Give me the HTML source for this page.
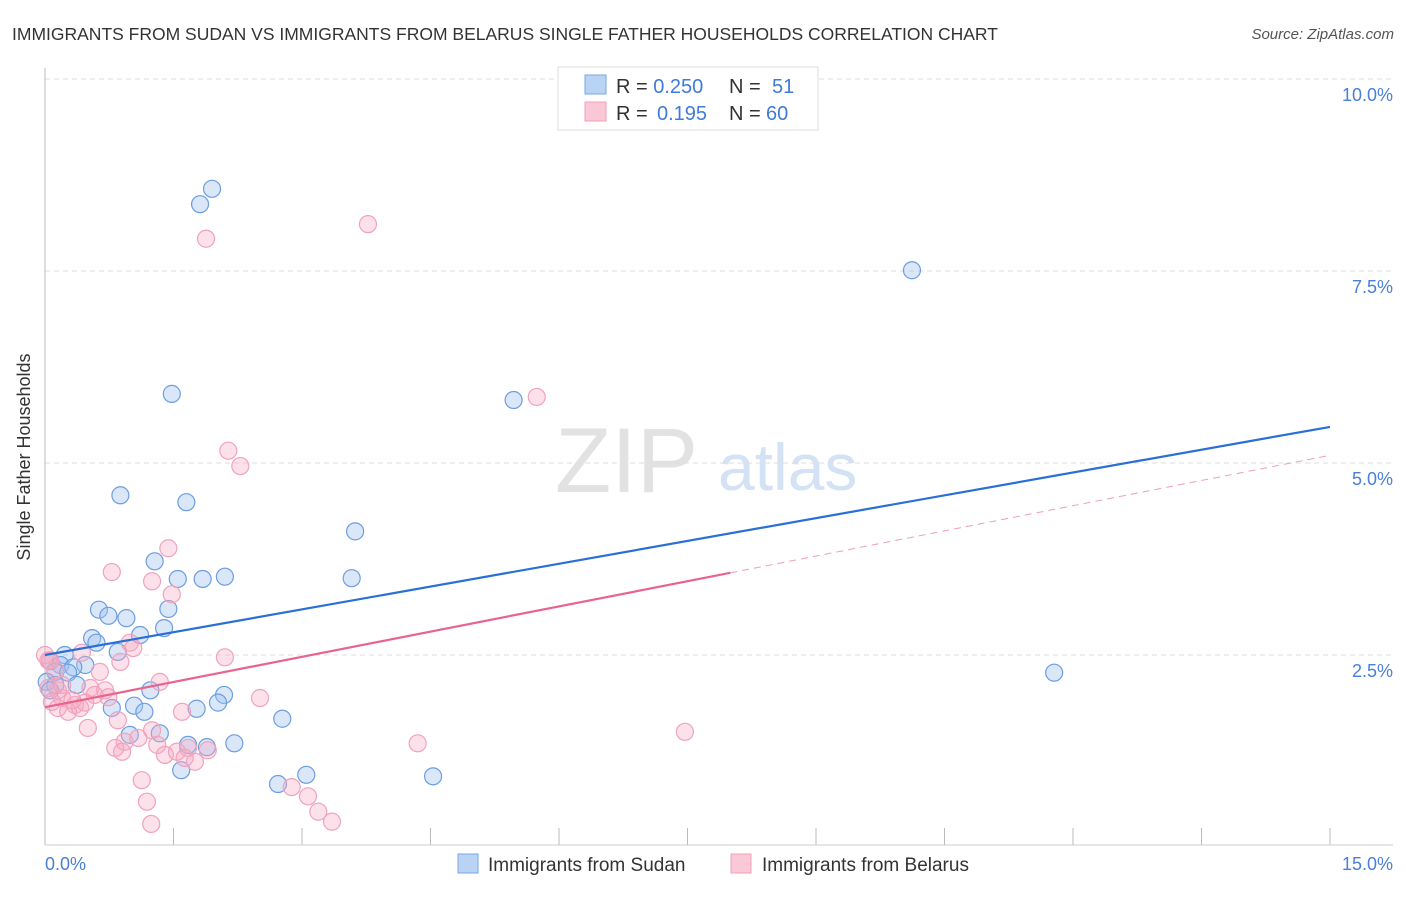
<!DOCTYPE html>
<html><head><meta charset="utf-8"><style>
body{margin:0;background:#fff;font-family:"Liberation Sans",sans-serif}
svg text{font-family:"Liberation Sans",sans-serif}
</style></head><body>
<svg id="c" width="1406" height="892">
<text x="12" y="40" font-size="17.5" fill="#333">IMMIGRANTS FROM SUDAN VS IMMIGRANTS FROM BELARUS SINGLE FATHER HOUSEHOLDS CORRELATION CHART</text>
<text x="1394" y="39" font-size="15" fill="#555" font-style="italic" text-anchor="end">Source: ZipAtlas.com</text>
<text x="555" y="492" font-size="92" fill="#e2e2e2" font-family="Liberation Serif">ZIP</text>
<text x="718" y="490" font-size="66" fill="#d3e2f5">atlas</text>
<g id="grid"></g>
<line x1="45" y1="68" x2="45" y2="845" stroke="#bbb"/>
<line x1="45" y1="845" x2="1393" y2="845" stroke="#ccc"/>
<text x="30" y="457" font-size="18" fill="#333" text-anchor="middle" transform="rotate(-90 30 457)">Single Father Households</text>
<text x="45" y="870" font-size="18" fill="#4a7fd6">0.0%</text>
<text x="1393" y="870" font-size="18" fill="#4a7fd6" text-anchor="end">15.0%</text>
<g id="pts"></g>
<g id="lines"></g>
<g>
<rect x="558" y="67" width="260" height="63" fill="#fff" stroke="#ddd"/>
<rect x="585" y="75" width="21" height="19" fill="#b9d3f5" stroke="#7aa7e6"/>
<rect x="585" y="102" width="21" height="19" fill="#fac8d7" stroke="#f0a0b8"/>
<text x="616" y="93" font-size="20" fill="#333">R = <tspan fill="#3f7bd9">0.250</tspan><tspan x="729">N = </tspan><tspan x="772" fill="#3f7bd9">51</tspan></text>
<text x="616" y="120" font-size="20" fill="#333">R = <tspan x="657" fill="#3f7bd9">0.195</tspan><tspan x="729">N = </tspan><tspan x="766" fill="#3f7bd9">60</tspan></text>
</g>
<g>
<rect x="458" y="854" width="20" height="19" fill="#b9d3f5" stroke="#7aa7e6"/>
<text x="488" y="871" font-size="19" fill="#333">Immigrants from Sudan</text>
<rect x="731" y="854" width="20" height="19" fill="#fac8d7" stroke="#f0a0b8"/>
<text x="762" y="871" font-size="19" fill="#333">Immigrants from Belarus</text>
</g>
</svg>
<script>
const yTicks=[2.5,5.0,7.5,10.0];
const yTickLabels=["2.5%","5.0%","7.5%","10.0%"];
const xTicks=[0,1.5,3,4.5,6,7.5,9,10.5,12,13.5,15];
const sudanX=[1.95,1.81,10.12,1.48,5.47,0.88,1.65,3.62,1.28,1.55,1.84,2.10,3.58,1.44,0.63,0.74,0.95,1.39,1.11,0.55,0.60,0.23,0.85,0.06,0.18,0.47,0.33,0.12,0.27,0.02,0.12,0.37,1.23,2.09,2.02,0.78,1.04,1.16,1.77,2.77,0.99,1.34,1.67,1.89,2.21,1.59,3.05,2.72,4.53,11.78,0.06];
const sudanY=[8.57,8.37,7.51,5.90,5.82,4.58,4.49,4.11,3.72,3.49,3.49,3.52,3.50,3.10,3.09,3.01,2.98,2.85,2.76,2.72,2.66,2.50,2.54,2.42,2.37,2.37,2.34,2.28,2.27,2.15,2.11,2.11,2.04,1.98,1.88,1.81,1.84,1.76,1.80,1.67,1.46,1.48,1.33,1.30,1.35,1.00,0.94,0.82,0.92,2.27,2.04];
const belarusX=[3.77,1.88,5.74,2.14,2.28,1.44,0.78,1.25,1.48,0.99,1.03,0.43,0.88,0.06,0.12,0.64,2.10,0.70,0.53,0.58,1.34,0.15,0.04,0.20,0.35,0.41,0.47,0.15,0.27,0.08,2.51,1.60,0.85,0.50,1.25,0.93,1.09,0.82,0.90,1.31,1.40,1.54,1.67,1.90,1.75,1.63,4.35,7.47,1.13,1.19,1.24,2.88,3.07,3.19,3.35,0.04,0.20,0.32,0.74,0.00];
const belarusY=[8.11,7.92,5.86,5.16,4.96,3.89,3.58,3.46,3.29,2.66,2.59,2.53,2.41,2.43,2.30,2.28,2.47,2.04,2.07,1.98,2.15,2.04,2.07,1.94,1.85,1.81,1.88,1.81,1.76,1.89,1.94,1.76,1.65,1.55,1.52,1.37,1.42,1.29,1.24,1.33,1.20,1.24,1.29,1.26,1.11,1.16,1.35,1.50,0.87,0.59,0.30,0.78,0.66,0.46,0.33,2.43,2.11,1.91,1.95,2.50];
const sudanTrend=[2.5,5.47];
const belarusTrend=[1.82,3.57,5.1];
const belarusSolidEnd=8.0;
const NS="http://www.w3.org/2000/svg";
const X=v=>45+v*(1330-45)/15;
const Y=v=>847-v*76.8;
function mk(t,a,p){const e=document.createElementNS(NS,t);for(const k in a)e.setAttribute(k,a[k]);p.appendChild(e);return e;}
const grid=document.getElementById('grid');
yTicks.forEach((t,i)=>{
 const l=mk('line',{x1:45,x2:1393,y1:Y(t),y2:Y(t),stroke:'#ddd','stroke-dasharray':'5,4'},grid);
 
 
 const tx=mk('text',{x:1393,y:Y(t)+22,'font-size':18,fill:'#4a7fd6','text-anchor':'end'},grid);
 tx.textContent=yTickLabels[i];
 
 
});
mk('line',{x1:45,x2:1393,y1:Y(10.0),y2:Y(10.0),stroke:'#ddd','stroke-dasharray':'5,4'},grid);
xTicks.forEach(t=>{
 const l=mk('line',{x1:X(t),x2:X(t),y1:828,y2:845,stroke:'#bbb'},grid);
 
 
});
const pts=document.getElementById('pts');
sudanX.forEach((x,i)=>{
 const c=mk('circle',{cx:X(x),cy:Y(sudanY[i]),r:8.5,fill:'rgba(160,195,240,0.4)',stroke:'#6d9de2','stroke-width':1.2},pts);
 
 
});
belarusX.forEach((x,i)=>{
 const c=mk('circle',{cx:X(x),cy:Y(belarusY[i]),r:8.5,fill:'rgba(245,170,195,0.35)',stroke:'#f0a3bb','stroke-width':1.2},pts);
 
 
});
const ln=document.getElementById('lines');
const b=mk('line',{x1:X(0),y1:Y(sudanTrend[0]),x2:X(15),y2:Y(sudanTrend[1]),stroke:'#2a6fd6','stroke-width':2.2},ln);


const p=mk('line',{x1:X(0),y1:Y(belarusTrend[0]),x2:X(belarusSolidEnd),y2:Y(belarusTrend[1]),stroke:'#e8648f','stroke-width':2.2},ln);


const pd=mk('line',{x1:X(belarusSolidEnd),y1:Y(belarusTrend[1]),x2:X(15),y2:Y(belarusTrend[2]),stroke:'#eaa0b8','stroke-width':1,'stroke-dasharray':'7,5'},ln);


</script>
</body></html>
